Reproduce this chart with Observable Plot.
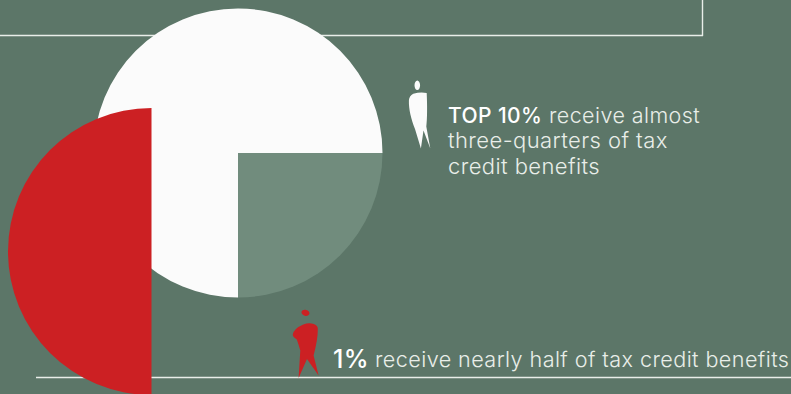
<!DOCTYPE html>
<html>
<head>
<meta charset="utf-8">
<script src="https://cdn.jsdelivr.net/npm/d3@7"></script>
<script src="https://cdn.jsdelivr.net/npm/@observablehq/plot@0.6"></script>
<style>
  html, body { margin: 0; padding: 0; background: #5c7668; }
  svg { display: block; }
</style>
</head>
<body>
<div id="chart"></div>
<script>
// Share of tax credit benefits received
const top10Labels = ["Top 10%", "Everyone else"];
const top10Shares = [75, 25];
const top1Labels = ["Top 1%", "Everyone else"];
const top1Shares = [50, 50];

const top10Lead = "TOP 10%";
const top10Rest = "receive almost";
const top10Lines = ["three-quarters of tax", "credit benefits"];
const top1Lead = "1%";
const top1Rest = "receive nearly half of tax credit benefits";

const colors = {
  ground: "#5c7668",
  white: "#fbfbfb",
  sage: "#718c7d",
  red: "#cc2023",
  text: "#e9eee9"
};

// A pie wedge as a dot symbol: the dot's r is the wedge radius.
const wedge = (a0, a1) => ({
  draw(ctx, size) {
    const r = Math.sqrt(size / Math.PI);
    ctx.moveTo(0, 0);
    ctx.arc(0, 0, r, a0 - Math.PI / 2, a1 - Math.PI / 2);
    ctx.closePath();
  }
});

// Slices run clockwise from six o'clock, so the minority share sits lower right.
const pie = d3.pie().sort(null).startAngle(Math.PI).endAngle(3 * Math.PI);
const top10Pie = pie(top10Shares).map((s, i) => ({...s, label: top10Labels[i]}));
const top1Pie = pie(top1Shares).map((s, i) => ({...s, label: top1Labels[i]}));

const sliceMark = (slice, x, y, r, fill) =>
  Plot.dot([slice], {
    x: () => x, y: () => y, r,
    symbol: wedge(slice.startAngle, slice.endAngle),
    fill, stroke: "none", title: "label"
  });

// Rotated ellipse drawn with cubic segments, used for the figures' heads.
function ellipse(ctx, cx, cy, rx, ry, rot = 0) {
  const k = 0.5523, c = Math.cos(rot), s = Math.sin(rot);
  const p = (u, v) => [cx + u * rx * c - v * ry * s, cy + u * rx * s + v * ry * c];
  ctx.moveTo(...p(1, 0));
  ctx.bezierCurveTo(...p(1, k), ...p(k, 1), ...p(0, 1));
  ctx.bezierCurveTo(...p(-k, 1), ...p(-1, k), ...p(-1, 0));
  ctx.bezierCurveTo(...p(-1, -k), ...p(-k, -1), ...p(0, -1));
  ctx.bezierCurveTo(...p(k, -1), ...p(1, -k), ...p(1, 0));
  ctx.closePath();
}

// Pictograms, outlined in pixels around their anchor (r = 1 keeps the unit).
const standingFigure = {
  draw(ctx) {
    ellipse(ctx, -0.2, -30.3, 2.8, 4.8);
    ctx.moveTo(-4.2, -21.8);
    ctx.quadraticCurveTo(3, -23.8, 9.2, -22.5);
    ctx.bezierCurveTo(9.8, -10, 9.8, 3, 8.8, 11);
    ctx.lineTo(12.8, 33);
    ctx.lineTo(6, 15);
    ctx.lineTo(3.4, 33);
    ctx.lineTo(-2.5, 13.5);
    ctx.bezierCurveTo(-6.5, 3, -8.8, -6, -8.6, -15);
    ctx.quadraticCurveTo(-8.4, -19.5, -4.2, -21.8);
    ctx.closePath();
  }
};

const leaningFigure = {
  draw(ctx) {
    ellipse(ctx, -0.3, -32.7, 4.1, 3, 0.25);
    ctx.moveTo(-2.5, -21);
    ctx.quadraticCurveTo(3, -23, 8, -21.5);
    ctx.quadraticCurveTo(12.5, -20, 12, -16);
    ctx.quadraticCurveTo(12, -6, 7.8, 10);
    ctx.lineTo(12.8, 30);
    ctx.lineTo(1.2, 13.5);
    ctx.lineTo(-7.2, 32.5);
    ctx.lineTo(-5.5, 5);
    ctx.quadraticCurveTo(-7.5, -2, -9, -6);
    ctx.quadraticCurveTo(-13.5, -9, -13, -11);
    ctx.quadraticCurveTo(-12, -17, -2.5, -21);
    ctx.closePath();
  }
};

const lightFont = {fontFamily: "Inter, sans-serif", fontWeight: 300, fill: colors.text, textAnchor: "start", lineAnchor: "bottom"};
const leadFont = {...lightFont, fontWeight: 500, fill: "#ffffff"};

const chart = Plot.plot({
  width: 791,
  height: 394,
  margin: 0,
  style: {background: colors.ground, letterSpacing: "0.42px"},
  x: {axis: null, domain: [0, 791]},
  y: {axis: null, domain: [394, 0]},
  marks: [
    // Frame rules behind the pies
    Plot.ruleY([35], {x1: 0, x2: 703, stroke: colors.text, strokeWidth: 1.4}),
    Plot.ruleX([702], {y1: 0, y2: 36, stroke: colors.text, strokeWidth: 1.4}),
    Plot.ruleY([377], {x1: 36, x2: 791, stroke: colors.text, strokeWidth: 1.4}),

    // Top 10% pie
    sliceMark(top10Pie[0], 237.5, 152.5, 144.5, colors.white),
    sliceMark(top10Pie[1], 237.5, 152.5, 144.5, colors.sage),

    // Top 1% half disc, only its own share is filled
    sliceMark(top1Pie[0], 151, 251, 143.5, colors.red),

    // Figures
    Plot.dot([0], {x: () => 417, y: () => 115, r: 1, symbol: standingFigure, fill: colors.white, stroke: "none"}),
    Plot.dot([0], {x: () => 305.3, y: () => 345, r: 1, symbol: leaningFigure, fill: colors.red, stroke: "none"}),

    // Captions
    Plot.text([top10Lead], {x: () => 447.5, y: () => 122, text: d => d, fontSize: 21, ...leadFont}),
    Plot.text([top10Rest], {x: () => 548.5, y: () => 122, text: d => d, fontSize: 21.5, ...lightFont}),
    Plot.text(top10Lines, {x: () => 447.5, y: (d, i) => 147.5 + i * 25.5, text: d => d, fontSize: 22, ...lightFont}),
    Plot.text([top1Lead], {x: () => 332.5, y: () => 367, text: d => d, fontSize: 25, ...leadFont}),
    Plot.text([top1Rest], {x: () => 374.5, y: () => 366, text: d => d, fontSize: 21.6, ...lightFont})
  ]
});
document.getElementById("chart").append(chart);
</script>
</body>
</html>
